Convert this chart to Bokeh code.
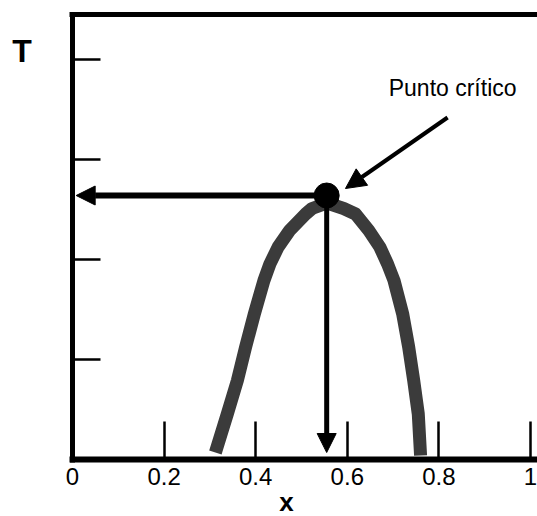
from bokeh.plotting import figure
from bokeh.models import (Range1d, LinearAxis, FixedTicker, Arrow, NormalHead, Label)
from bokeh.embed import file_html
from bokeh.resources import INLINE

# Coexistence curve of a binary mixture: temperature T versus composition x
curve_x = [0.312, 0.338, 0.360, 0.378, 0.397, 0.418, 0.431, 0.449, 0.474,
           0.509, 0.523, 0.556, 0.592, 0.618, 0.647, 0.671, 0.688, 0.702,
           0.721, 0.734, 0.745, 0.755, 0.760]
curve_t = [0.014, 0.091, 0.158, 0.225, 0.291, 0.358, 0.391, 0.425, 0.458,
           0.491, 0.502, 0.513, 0.502, 0.491, 0.458, 0.425, 0.391, 0.358,
           0.291, 0.225, 0.158, 0.091, 0.008]

# Critical point
crit_x = 0.555
crit_t = 0.528

# Axis ticks
x_ticks = [0, 0.2, 0.4, 0.6, 0.8, 1]
x_tick_labels = ["0", "0.2", "0.4", "0.6", "0.8", "1"]
y_ticks = [0.2, 0.4, 0.6, 0.8]

# Extent of the drawn box
x_max = 1.0153
t_max = 0.89

FONT = "Liberation Sans"

p = figure(width=537, height=516, output_backend="svg", toolbar_location=None,
           x_range=Range1d(-0.1572, x_max), y_range=Range1d(-0.114, 0.918),
           x_axis_location=None, y_axis_location=None,
           min_border=0)
p.grid.visible = False
p.outline_line_color = None
p.background_fill_color = "white"
p.border_fill_color = "white"


def box_axis(axis, width):
    axis.axis_line_width = width
    axis.axis_line_color = "black"
    axis.major_tick_out = 0
    axis.major_tick_line_width = 2.5
    axis.major_tick_line_color = "black"
    axis.minor_tick_line_color = None
    return axis


# Bottom axis: thick line at T = 0, inward ticks, labels
xa = box_axis(LinearAxis(ticker=FixedTicker(ticks=x_ticks), fixed_location=0,
                         bounds=(-0.006, x_max),
                         major_label_overrides={t: s for t, s in zip(x_ticks, x_tick_labels)}), 6)
xa.major_tick_in = 38
xa.major_label_text_font = FONT
xa.major_label_text_font_size = "24px"
xa.major_label_text_color = "black"
xa.major_label_standoff = 8
p.add_layout(xa, "below")

# Left axis: thick line at x = 0, inward ticks, no labels
ya = box_axis(LinearAxis(ticker=FixedTicker(ticks=y_ticks), fixed_location=0,
                         bounds=(-0.006, t_max + 0.005),
                         major_label_overrides={t: "" for t in y_ticks}), 5)
ya.major_tick_in = 28
p.add_layout(ya, "left")

# Top border of the box
ta = box_axis(LinearAxis(ticker=FixedTicker(ticks=[]), fixed_location=t_max,
                         bounds=(-0.006, x_max)), 5)
ta.major_tick_in = 0
p.add_layout(ta, "above")

# Coexistence curve
p.line(curve_x, curve_t, line_width=13, line_color="#3b3b3b", line_cap="butt",
       line_join="round")

# Arrows from the critical point to both axes
p.add_layout(Arrow(x_start=crit_x, y_start=crit_t, x_end=0.008, y_end=crit_t,
                   line_width=6, line_color="black",
                   end=NormalHead(size=19, fill_color="black", line_color="black")))
p.add_layout(Arrow(x_start=crit_x, y_start=crit_t, x_end=crit_x, y_end=0.014,
                   line_width=5, line_color="black",
                   end=NormalHead(size=19, fill_color="black", line_color="black")))

# Critical point marker
p.scatter([crit_x], [crit_t], size=25, fill_color="black", line_color="black")

# Annotation
p.add_layout(Arrow(x_start=0.819, y_start=0.684, x_end=0.596, y_end=0.542,
                   line_width=4, line_color="black",
                   end=NormalHead(size=20, fill_color="black", line_color="black")))
p.add_layout(Label(x=0.830, y=0.743, text="Punto crítico", text_font=FONT,
                   text_font_size="23px", text_color="black",
                   text_align="center", text_baseline="middle"))

# Axis titles
p.add_layout(Label(x=-0.110, y=0.818, text="T", text_font=FONT,
                   text_font_size="32px", text_font_style="bold",
                   text_color="black", text_align="center",
                   text_baseline="middle"))
p.add_layout(Label(x=0.467, y=-0.085, text="x", text_font=FONT,
                   text_font_size="26px", text_font_style="bold",
                   text_color="black", text_align="center",
                   text_baseline="middle"))

open("out.html", "w").write(file_html(p, INLINE))
